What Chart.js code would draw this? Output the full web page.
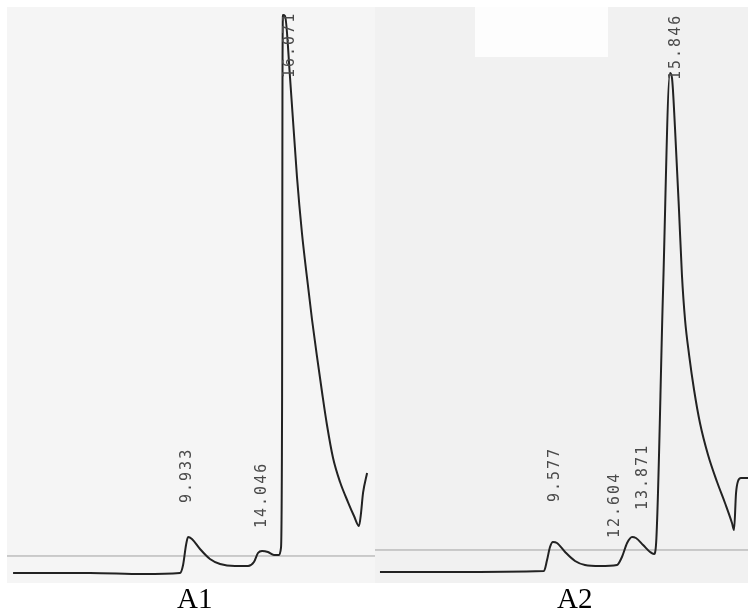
<!DOCTYPE html>
<html>
<head>
<meta charset="utf-8">
<script src="https://cdn.jsdelivr.net/npm/chart.js@4"></script>
<style>
  html, body { margin:0; padding:0; background:#ffffff; }
  body { width:748px; height:614px; position:relative; overflow:hidden; }
  .panel { position:absolute; top:7px; height:576px; }
  #p1 { left:7px; width:368px; background:#f5f5f5; }
  #p2 { left:375px; width:373px; background:#f1f1f1; }
  #blank { position:absolute; left:100px; top:0; width:133px; height:50px; background:#fdfdfd; }
  canvas { position:absolute; left:0; top:0; }
  .cap { position:absolute; top:581px; font-family:"Liberation Serif","Times New Roman",serif; font-size:29px; color:#000; line-height:34px; }
</style>
</head>
<body>
<div id="p1" class="panel"><canvas id="c1" width="368" height="576"></canvas></div>
<div id="p2" class="panel"><div id="blank"></div><canvas id="c2" width="373" height="576"></canvas></div>
<div class="cap" style="left:177px;">A1</div>
<div class="cap" style="left:557px;">A2</div>
<script>
// ---- A1 chromatogram (time in min, detector signal in % of full scale) ----
const a1Time   = [0.33, 4.51, 7.39, 9.40, 9.57, 9.73, 9.84, 10.05, 10.49, 11.03, 11.58, 12.39, 13.10, 13.42, 13.64, 13.86, 14.18, 14.51, 14.78, 14.89, 14.95, 14.97, 15.00, 15.11, 15.38, 15.76, 16.03, 16.30, 16.58, 16.85, 17.12, 17.39, 17.72, 18.10, 18.53, 18.86, 19.13, 19.24, 19.35, 19.57];
const a1Signal = [1.74, 1.74, 1.56, 1.74, 3.13, 6.60, 7.99, 7.64, 5.90, 4.17, 3.30, 2.95, 2.95, 3.65, 5.21, 5.56, 5.38, 4.86, 4.86, 6.08, 31.77, 83.85, 98.61, 98.44, 87.85, 70.49, 60.76, 53.13, 45.66, 39.24, 33.16, 27.43, 21.70, 17.53, 14.06, 11.63, 9.90, 12.15, 15.63, 19.10];
const a1Reference = 4.69;
const a1PeakLabels = ["9.933", "14.046", "16.071"];
const a1LabelTime   = [9.78, 13.86, 15.38];
const a1LabelSignal = [13.89, 9.55, 87.67];

// ---- A2 chromatogram ----
const a2Time   = [0.27, 4.08, 9.18, 9.35, 9.51, 9.67, 9.89, 10.33, 10.87, 11.41, 12.23, 13.15, 13.42, 13.70, 13.97, 14.18, 14.57, 14.95, 15.16, 15.27, 15.65, 16.03, 16.14, 16.30, 16.52, 16.68, 16.85, 17.07, 17.34, 17.66, 18.10, 18.59, 19.02, 19.40, 19.51, 19.62, 19.73, 19.89, 20.27];
const a2Signal = [1.91, 1.91, 2.08, 3.99, 6.25, 7.12, 6.94, 5.38, 3.82, 3.13, 2.95, 3.13, 4.51, 6.94, 7.99, 7.81, 6.60, 5.38, 5.03, 6.60, 50.35, 88.54, 87.67, 79.17, 64.76, 53.47, 45.66, 39.58, 33.51, 27.78, 22.22, 17.53, 13.89, 10.42, 9.20, 15.63, 17.71, 18.23, 18.23];
const a2Reference = 5.73;
const a2PeakLabels = ["9.577", "12.604", "13.871", "15.846"];
const a2LabelTime   = [9.78, 13.04, 14.57, 16.36];
const a2LabelSignal = [14.06, 7.81, 12.67, 87.33];

const labelPlugin = {
  id: 'peakLabels',
  afterDatasetsDraw(chart) {
    const cfg = chart.options.plugins.peakLabels;
    if (!cfg) return;
    const ctx = chart.ctx;
    const xs = chart.scales.x, ys = chart.scales.y;
    ctx.save();
    ctx.font = '15px "DejaVu Sans Mono", monospace';
    ctx.fillStyle = '#4a4a4a';
    if ('letterSpacing' in ctx) ctx.letterSpacing = '2px';
    ctx.textAlign = 'left';
    ctx.textBaseline = 'middle';
    cfg.texts.forEach((t, i) => {
      const px = xs.getPixelForValue(cfg.times[i]);
      const py = ys.getPixelForValue(cfg.signals[i]);
      ctx.save();
      ctx.translate(px, py);
      ctx.rotate(-Math.PI / 2);
      ctx.fillText(t, 0, 0);
      ctx.restore();
    });
    ctx.restore();
  }
};

function makeChart(id, times, signals, ref, xMax, texts, lTimes, lSignals) {
  const trace = times.map((t, i) => ({ x: t, y: signals[i] }));
  return new Chart(document.getElementById(id), {
    type: 'line',
    data: {
      datasets: [
        {
          data: trace,
          borderColor: '#222222',
          borderWidth: 2,
          pointRadius: 0,
          cubicInterpolationMode: 'monotone',
          fill: false,
          order: 1
        },
        {
          data: [{ x: 0, y: ref }, { x: xMax, y: ref }],
          borderColor: '#a0a0a0',
          borderWidth: 1,
          pointRadius: 0,
          fill: false,
          order: 2
        }
      ]
    },
    options: {
      responsive: false,
      devicePixelRatio: 1,
      animation: false,
      layout: { padding: 0 },
      plugins: {
        legend: { display: false },
        tooltip: { enabled: false },
        peakLabels: { texts: texts, times: lTimes, signals: lSignals }
      },
      scales: {
        x: { type: 'linear', min: 0, max: xMax, display: false },
        y: { type: 'linear', min: 0, max: 100, display: false }
      }
    },
    plugins: [labelPlugin]
  });
}

makeChart('c1', a1Time, a1Signal, a1Reference, 20, a1PeakLabels, a1LabelTime, a1LabelSignal);
makeChart('c2', a2Time, a2Signal, a2Reference, 20.27, a2PeakLabels, a2LabelTime, a2LabelSignal);
</script>
</body>
</html>
